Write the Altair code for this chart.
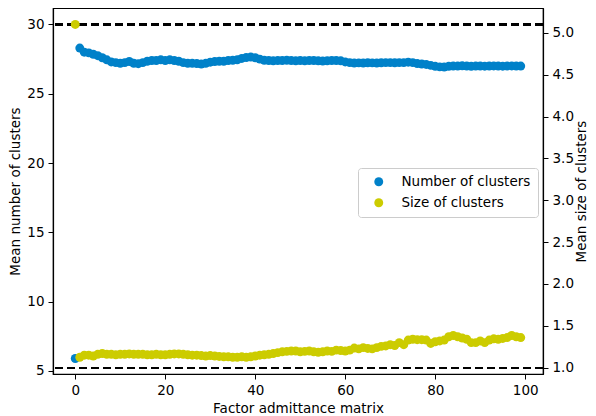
import altair as alt
import pandas as pd

x_vals = list(range(100))

n_clusters = [
    5.9, 28.3, 28.0, 27.95, 27.85, 27.75, 27.6, 27.45, 27.3, 27.25,
    27.2, 27.25, 27.33, 27.2, 27.17, 27.25, 27.35, 27.4, 27.4, 27.45,
    27.4, 27.45, 27.4, 27.35, 27.25, 27.2, 27.2, 27.18, 27.15, 27.2,
    27.28, 27.33, 27.35, 27.35, 27.4, 27.42, 27.45, 27.55, 27.62, 27.65,
    27.6, 27.5, 27.42, 27.4, 27.38, 27.4, 27.4, 27.42, 27.4, 27.38,
    27.4, 27.38, 27.4, 27.4, 27.38, 27.36, 27.38, 27.4, 27.4, 27.38,
    27.3, 27.25, 27.22, 27.23, 27.22, 27.24, 27.23, 27.22, 27.24, 27.25,
    27.25, 27.24, 27.25, 27.25, 27.28, 27.25, 27.18, 27.15, 27.12, 27.05,
    26.98, 26.94, 26.93, 26.98, 27.0, 27.0, 27.02, 27.0, 26.98, 27.0,
    27.0, 26.99, 27.0, 27.01, 27.0, 26.99, 27.0, 27.01, 27.0, 27.0,
]

s_clusters = [
    5.1, 1.125, 1.15, 1.15, 1.14, 1.16, 1.17, 1.16, 1.16, 1.155,
    1.16, 1.16, 1.165, 1.16, 1.16, 1.16, 1.155, 1.155, 1.16, 1.155,
    1.155, 1.16, 1.165, 1.165, 1.16, 1.155, 1.15, 1.15, 1.145, 1.14,
    1.145, 1.14, 1.135, 1.13, 1.13, 1.125, 1.125, 1.13, 1.125, 1.13,
    1.14, 1.15, 1.155, 1.16, 1.17, 1.18, 1.19, 1.195, 1.2, 1.2,
    1.19, 1.195, 1.2, 1.19, 1.185, 1.19, 1.2, 1.195, 1.21, 1.205,
    1.2, 1.21, 1.235, 1.225, 1.24, 1.23, 1.225, 1.24, 1.255, 1.26,
    1.275, 1.265, 1.3, 1.275, 1.33, 1.34, 1.335, 1.335, 1.33, 1.29,
    1.31, 1.32, 1.33, 1.37, 1.385, 1.37, 1.355, 1.34, 1.3, 1.3,
    1.32, 1.3, 1.33, 1.345, 1.34, 1.35, 1.36, 1.385, 1.37, 1.36,
]

series_names = ["Number of clusters", "Size of clusters"]
series_colors = ["#0081c9", "#cccc00"]
left_ticks = [5, 10, 15, 20, 25, 30]
right_ticks = [1.0, 1.5, 2.0, 2.5, 3.0, 3.5, 4.0, 4.5, 5.0]
x_ticks = [0, 20, 40, 60, 80, 100]

df = pd.DataFrame({"x": x_vals, "n": n_clusters, "s": s_clusters})

FONT = "DejaVu Sans"
FS = 13.5
x_scale = alt.Scale(domain=[-4.95, 103.95], nice=False, zero=False)
yl_scale = alt.Scale(domain=[4.78, 31.19], nice=False, zero=False)
yr_scale = alt.Scale(domain=[0.925, 5.296], nice=False, zero=False)
color_scale = alt.Scale(domain=series_names, range=series_colors)

x_enc = alt.X("x:Q", scale=x_scale,
              axis=alt.Axis(values=x_ticks, title="Factor admittance matrix", titlePadding=5))
left_axis = alt.Axis(values=left_ticks, title="Mean number of clusters", orient="left", titlePadding=4)
right_axis = alt.Axis(values=right_ticks, format=".1f", title="Mean size of clusters",
                      orient="right", titleAngle=270, titlePadding=15)

base = alt.Chart(df)

rule_top = alt.Chart(df).mark_rule(color="black", strokeDash=[8, 4], strokeWidth=1.6).encode(
    y=alt.Y(datum=30, scale=yl_scale, axis=left_axis)
)
rule_bot = alt.Chart(df).mark_rule(color="black", strokeDash=[8, 4], strokeWidth=1.6).encode(
    y=alt.Y(datum=1.0, scale=yr_scale, axis=right_axis)
)

blue = base.transform_calculate(series="'Number of clusters'").mark_circle(size=80, opacity=1).encode(
    x=x_enc,
    y=alt.Y("n:Q", scale=yl_scale, axis=left_axis),
    color=alt.Color("series:N", scale=color_scale,
                    legend=alt.Legend(title=None, orient="none", legendX=305, legendY=160)),
)

yellow = base.transform_calculate(series="'Size of clusters'").mark_circle(size=80, opacity=1).encode(
    x=x_enc,
    y=alt.Y("s:Q", scale=yr_scale, axis=right_axis),
    color=alt.Color("series:N", scale=color_scale),
)

left_layer = alt.layer(rule_top, blue)
right_layer = alt.layer(rule_bot, yellow)

chart = alt.layer(left_layer, right_layer).resolve_scale(y="independent").properties(
    width=490, height=366,
    autosize=alt.AutoSizeParams(type="none"),
    padding={"left": 45, "top": 0, "right": 45, "bottom": 42},
).configure_view(stroke="black", strokeWidth=1.2).configure_axis(
    domainColor="black", tickColor="black", labelColor="black", titleColor="black",
    labelFont=FONT, titleFont=FONT, labelFontSize=FS, titleFontSize=FS,
    titleFontWeight="normal", tickSize=5, grid=False, labelPadding=4, domainWidth=1.2,
).configure_legend(
    labelFont=FONT, labelFontSize=FS, labelColor="black",
    strokeColor="#cccccc", fillColor="white", cornerRadius=3, padding=7,
    symbolOffset=7, labelOffset=16, rowPadding=6, symbolSize=80, symbolType="circle",
)

chart.save("out.html", embed_options={"renderer": "svg", "actions": False})
